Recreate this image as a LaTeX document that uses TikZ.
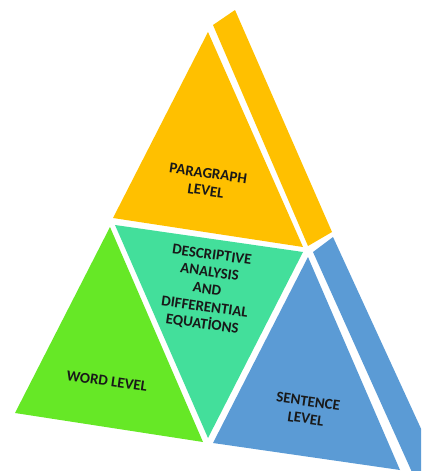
\documentclass[tikz,border=0pt]{standalone}
\usepackage{fontspec}
\setmainfont{Carlito}
\definecolor{paraorange}{HTML}{FFC000}
\definecolor{wordgreen}{HTML}{66E826}
\definecolor{centerteal}{HTML}{43DF9B}
\definecolor{sentblue}{HTML}{5B9BD5}
\begin{document}
\begin{tikzpicture}[x=1pt,y=-1pt,
  lbl/.style={font=\bfseries\fontsize{15}{17.5}\selectfont, align=center, text=black!90, rotate=-8, inner sep=0pt}]
\useasboundingbox (0,0) rectangle (421,471);
\begin{scope}
\clip (0,0) rectangle (421,471);
% top block: front face and slanted side
\fill[paraorange] (208,32) -- (113,218) -- (303,247) -- cycle;
\fill[paraorange] (213,25) -- (235,10) -- (332,232) -- (308,246) -- cycle;
% lower left block
\fill[wordgreen] (110,227) -- (15,413) -- (203,442) -- cycle;
% inverted middle block
\fill[centerteal] (115,225) -- (303,252) -- (208,438) -- cycle;
% lower right block: front face and slanted side
\fill[sentblue] (308,257) -- (213,443) -- (400,470) -- cycle;
\fill[sentblue] (313,252) -- (333,237) -- (440,470) -- (420,490) -- cycle;
\end{scope}
\node[lbl] (para) at (207,182) {PARAGRAPH\\LEVEL};
\node[lbl] (center) at (207,290) {DESCRIPTIVE\\ANALYSIS\\AND\\DIFFERENTIAL\\EQUATİONS};
\node[lbl] (word) at (107,381) {WORD LEVEL};
\node[lbl] (sent) at (307,410) {SENTENCE\\LEVEL};
\end{tikzpicture}
\end{document}
